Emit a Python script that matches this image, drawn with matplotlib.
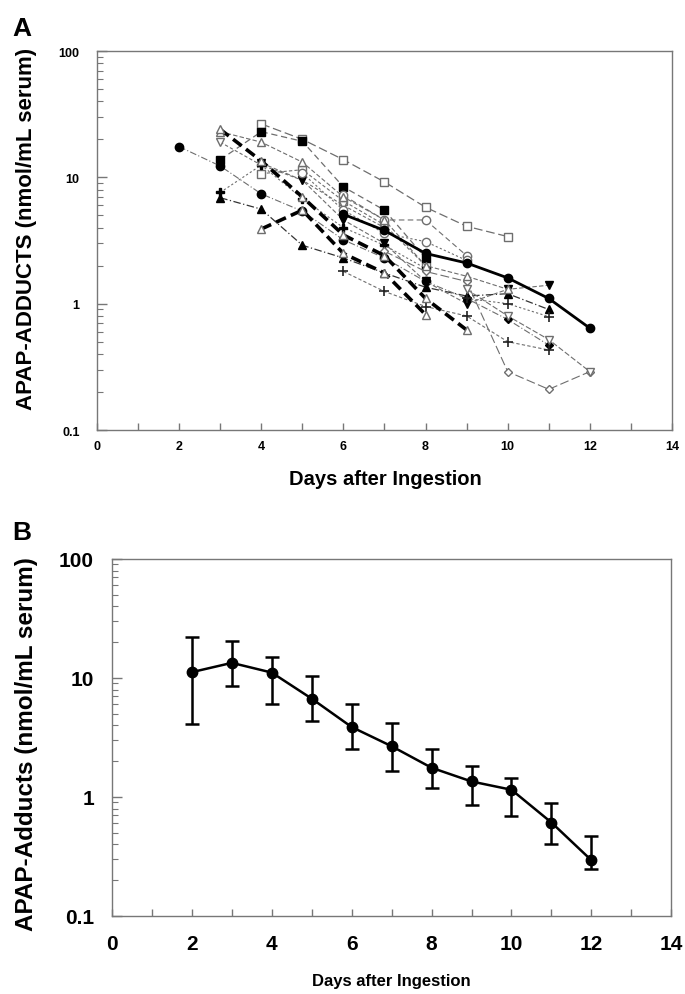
import matplotlib
matplotlib.use("Agg")
import matplotlib.pyplot as plt
from matplotlib.ticker import FixedLocator, NullFormatter, FuncFormatter, LogLocator

plt.rcParams['font.family'] = ['Liberation Sans', 'DejaVu Sans']

# ---------------- Panel A data (individual patients) ----------------
a_days_1 = [6, 7, 8, 9, 10, 11, 12]
a_vals_1 = [5.1, 3.8, 2.5, 2.1, 1.6, 1.1, 0.64]
a_days_2 = [4, 5, 6, 7, 8, 9, 10]
a_vals_2 = [26.5, 20.0, 13.8, 9.2, 5.8, 4.1, 3.4]
a_days_3 = [3, 4, 5, 6, 7, 8]
a_vals_3 = [13.8, 23.0, 19.3, 8.4, 5.5, 2.3]
a_days_4 = [3, 4, 5, 6, 7, 8, 9]
a_vals_4 = [24.0, 13.5, 7.0, 3.5, 2.4, 1.1, 0.62]
a_days_5 = [4, 5, 6, 7, 8]
a_vals_5 = [3.9, 5.5, 2.5, 1.75, 0.82]
a_days_6 = [3, 4, 5, 6, 7]
a_vals_6 = [19.0, 12.5, 9.5, 6.0, 4.0]
a_days_7 = [2, 3, 4, 5, 6, 7, 8]
a_vals_7 = [17.5, 12.3, 7.4, 5.4, 3.2, 2.3, 1.5]
a_days_8 = [3, 4, 5, 6, 7, 8]
a_vals_8 = [7.6, 12.5, 6.8, 4.0, 2.9, 1.9]
a_days_9 = [3, 4, 5, 6, 7, 8, 9, 10, 11]
a_vals_9 = [6.9, 5.6, 2.9, 2.3, 1.75, 1.35, 1.15, 1.2, 0.9]
a_days_10 = [4, 5, 6, 7, 8, 9, 10, 11]
a_vals_10 = [13.0, 9.5, 4.6, 3.0, 1.5, 1.0, 1.3, 1.4]
a_days_11 = [6, 7, 8, 9]
a_vals_11 = [7.2, 4.6, 4.6, 2.4]
a_days_12 = [5, 6, 7, 8, 9]
a_vals_12 = [10.8, 5.5, 3.6, 3.1, 2.2]
a_days_13 = [7, 8, 9, 10, 11, 12]
a_vals_13 = [2.6, 1.8, 1.5, 0.29, 0.21, 0.29]
a_days_14 = [8, 9, 10, 11]
a_vals_14 = [1.5, 1.1, 0.75, 0.47]
a_days_15 = [6, 7, 8, 9, 10, 11]
a_vals_15 = [1.8, 1.25, 0.95, 0.8, 0.5, 0.43]
a_days_16 = [9, 10, 11]
a_vals_16 = [1.1, 1.0, 0.79]
a_days_17 = [3, 4, 5, 6, 7, 8, 9, 10]
a_vals_17 = [23.0, 19.0, 13.2, 7.0, 4.6, 2.0, 1.65, 1.3]
a_days_18 = [9, 10, 11, 12]
a_vals_18 = [1.3, 0.8, 0.52, 0.29]
a_days_19 = [4, 5, 6, 7, 8]
a_vals_19 = [10.7, 11.5, 6.5, 4.2, 2.0]

# ---------------- Panel B data (mean with error bars) ----------------
b_days = [2, 3, 4, 5, 6, 7, 8, 9, 10, 11, 12]
b_mean = [11.2, 13.4, 11.1, 6.7, 3.87, 2.67, 1.76, 1.35, 1.15, 0.61, 0.294]
b_upper = [22.1, 20.3, 15.0, 10.4, 6.0, 4.19, 2.55, 1.81, 1.45, 0.89, 0.47]
b_lower = [4.13, 8.57, 6.09, 4.32, 2.55, 1.65, 1.20, 0.85, 0.69, 0.40, 0.25]

x_ticks = [0, 2, 4, 6, 8, 10, 12, 14]
y_ticks = [0.1, 1, 10, 100]
y_tick_labels = ['0.1', '1', '10', '100']

GRAY = '#6e6e6e'
fig = plt.figure(figsize=(6.85, 9.95), dpi=100)

axA = fig.add_axes([0.1416, 0.5668, 0.8394, 0.3809])
axB = fig.add_axes([0.1635, 0.0784, 0.8165, 0.3588])

# styles: (days, values, marker, filled, linestyle, lw, line color)
series = [
    (a_days_2, a_vals_2, 's', False, (0, (7, 3)), 0.9, GRAY),
    (a_days_19, a_vals_19, 's', False, (0, (3, 2)), 0.8, GRAY),
    (a_days_3, a_vals_3, 's', True, (0, (5, 3)), 0.9, GRAY),
    (a_days_6, a_vals_6, 'v', False, (0, (3, 2)), 0.8, GRAY),
    (a_days_7, a_vals_7, 'o', True, (0, (6, 2, 1, 2)), 0.8, GRAY),
    (a_days_8, a_vals_8, 'P', True, (0, (2, 2)), 0.8, GRAY),
    (a_days_9, a_vals_9, '^', True, (0, (6, 2, 1, 2)), 0.9, '#333333'),
    (a_days_10, a_vals_10, 'v', True, (0, (4, 2)), 0.8, GRAY),
    (a_days_11, a_vals_11, 'o', False, (0, (5, 3)), 0.8, GRAY),
    (a_days_12, a_vals_12, 'o', False, (0, (2, 2)), 0.8, GRAY),
    (a_days_13, a_vals_13, 'D', False, (0, (8, 3)), 0.8, GRAY),
    (a_days_14, a_vals_14, 'D', True, (0, (6, 2, 1, 2)), 0.8, GRAY),
    (a_days_15, a_vals_15, '+', True, (0, (3, 2)), 0.8, GRAY),
    (a_days_16, a_vals_16, '+', True, (0, (2, 2)), 0.8, GRAY),
    (a_days_17, a_vals_17, '^', False, (0, (4, 2)), 0.8, GRAY),
    (a_days_18, a_vals_18, 'v', False, (0, (5, 2)), 0.8, GRAY),
]
for d, v, mk, filled, ls, lw, lc in series:
    ms = 6 if mk != 'D' else 4.5
    if mk == '+':
        axA.plot(d, v, linestyle=ls, lw=lw, color=lc, marker='+', ms=7,
                 mew=1.2, mec='#222222', zorder=3)
    elif filled:
        axA.plot(d, v, linestyle=ls, lw=lw, color=lc, marker=mk, ms=ms,
                 mfc='black', mec='black', zorder=3)
    else:
        axA.plot(d, v, linestyle=ls, lw=lw, color=lc, marker=mk, ms=ms,
                 mfc='white', mec=GRAY, mew=1.0, zorder=3)

# thick dashed series
axA.plot(a_days_4, a_vals_4, linestyle=(0, (3, 1.5)), lw=2.6, color='black',
         marker='^', ms=6, mfc='white', mec=GRAY, zorder=4)
axA.plot(a_days_5, a_vals_5, linestyle=(0, (3, 1.5)), lw=2.6, color='black',
         marker='^', ms=6, mfc='white', mec=GRAY, zorder=4)
# thick solid series
axA.plot(a_days_1, a_vals_1, linestyle='-', lw=2.0, color='black',
         marker='o', ms=6, mfc='black', mec='black', zorder=5)

# Panel B
yerr = [[m - lo for m, lo in zip(b_mean, b_lower)],
        [hi - m for m, hi in zip(b_mean, b_upper)]]
axB.errorbar(b_days, b_mean, yerr=yerr, fmt='-o', color='black', lw=1.8,
             ms=7.5, elinewidth=1.8, capsize=5, capthick=1.8, zorder=3)


def fmt_y(v, pos):
    for t, lab in zip(y_ticks, y_tick_labels):
        if abs(v - t) < 1e-9 * max(t, 1):
            return lab
    return ''


for ax, tick_fs, ypad, xpad in [(axA, 9, 12.5, 7), (axB, 15, 13, 13)]:
    ax.set_yscale('log')
    ax.set_ylim(0.1, 100)
    ax.set_xlim(0, 14)
    ax.yaxis.set_major_locator(FixedLocator(y_ticks))
    ax.yaxis.set_major_formatter(FuncFormatter(fmt_y))
    ax.yaxis.set_minor_locator(LogLocator(base=10, subs=range(2, 10)))
    ax.yaxis.set_minor_formatter(NullFormatter())
    ax.xaxis.set_major_locator(FixedLocator(x_ticks))
    ax.xaxis.set_minor_locator(FixedLocator(list(range(1, 14, 2))))
    for sp in ax.spines.values():
        sp.set_color('#777777')
        sp.set_linewidth(1.0)
    ax.tick_params(axis='both', which='both', direction='in', colors='#777777',
                   labelcolor='black')
    ax.tick_params(axis='y', which='major', length=7, width=1.0, pad=ypad)
    ax.tick_params(axis='y', which='minor', length=4, width=0.8)
    ax.tick_params(axis='x', which='both', length=5, width=1.0, pad=xpad)
    for lab in ax.get_xticklabels() + ax.get_yticklabels():
        lab.set_fontsize(tick_fs)
        lab.set_fontweight('bold')

# axis titles
fig.text(0.038, 0.770, 'APAP-ADDUCTS (nmol/mL serum)', rotation=90,
         fontsize=16, fontweight='bold', ha='center', va='center')
fig.text(0.562, 0.5176, 'Days after Ingestion', fontsize=14.5,
         fontweight='bold', ha='center', va='center')
fig.text(0.039, 0.2523, 'APAP-Adducts (nmol/mL serum)', rotation=90,
         fontsize=17.5, fontweight='bold', ha='center', va='center')
fig.text(0.571, 0.0135, 'Days after Ingestion', fontsize=12,
         fontweight='bold', ha='center', va='center')

fig.text(0.018, 0.971, 'A', fontsize=19, fontweight='bold', va='center')
fig.text(0.018, 0.4643, 'B', fontsize=19, fontweight='bold', va='center')

fig.savefig('out.png', dpi=100, facecolor='white')
